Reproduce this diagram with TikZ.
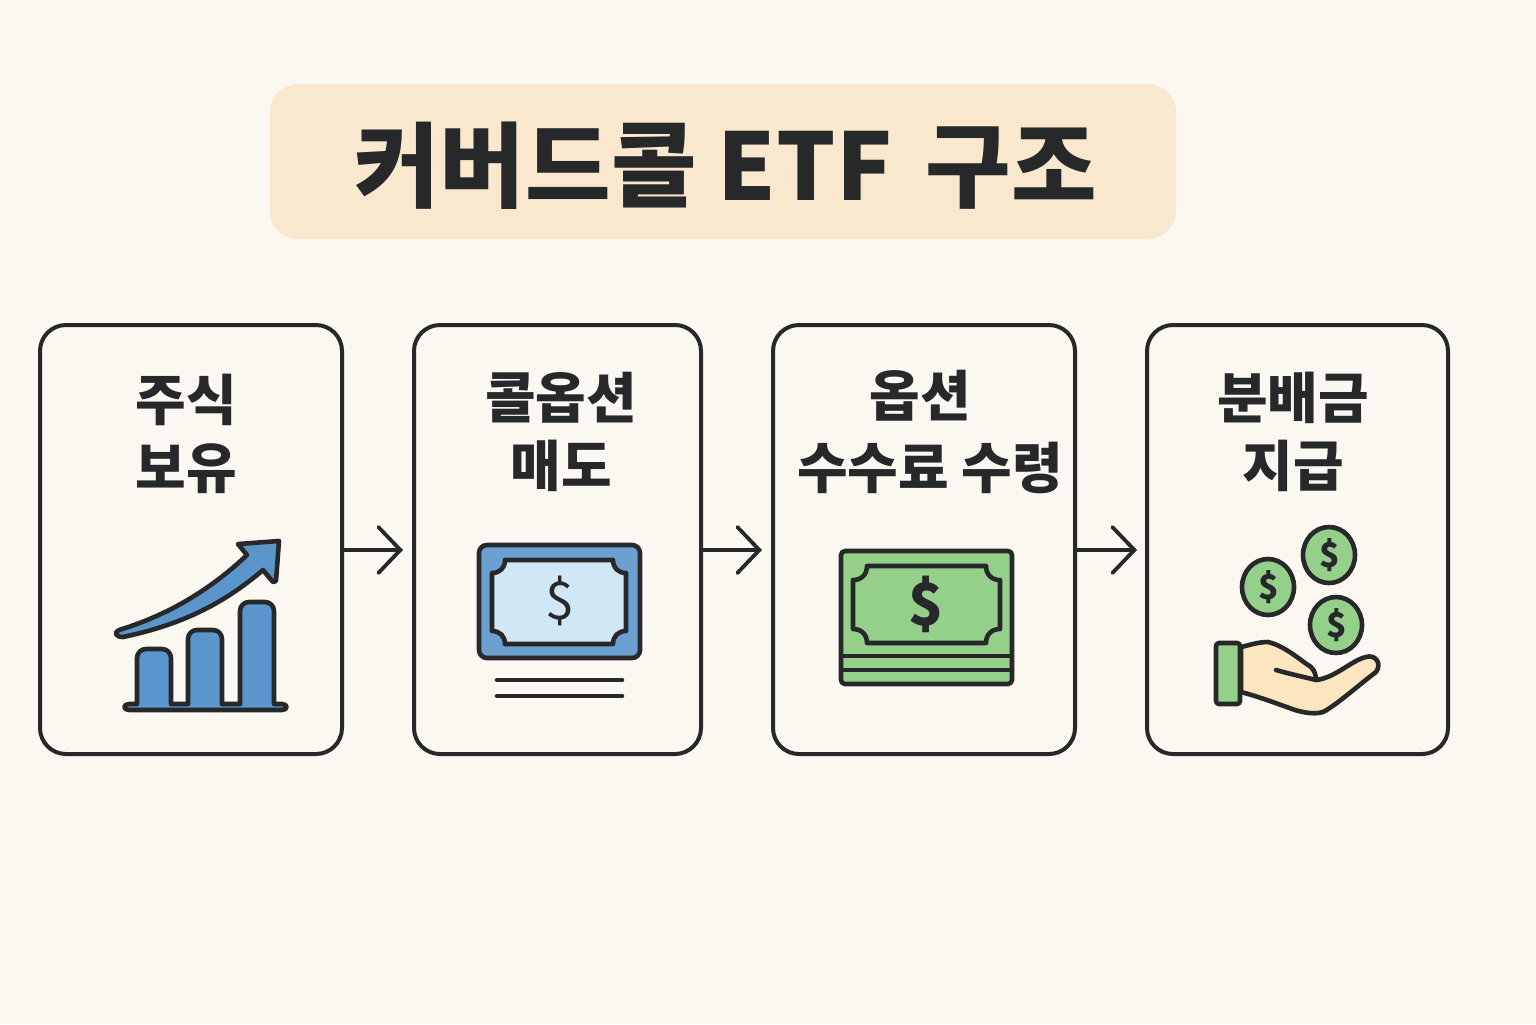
\documentclass[tikz,border=0pt]{standalone}
\usepackage{fontspec}
\setmainfont{Noto Sans CJK KR}
\usepackage{xcolor}
\usetikzlibrary{
  arrows.meta,
  positioning
}
\definecolor{pagebg}{HTML}{FBF8F1}
\definecolor{titlebg}{HTML}{F9E8CE}
\definecolor{inkdark}{HTML}{26282A}
\definecolor{chartblue}{HTML}{5A96CC}
\definecolor{notepale}{HTML}{D2E7F5}
\definecolor{billgreen}{HTML}{95D08A}
\definecolor{handskin}{HTML}{FCE6BF}

% frame of a bank note: x1 y1 x2 y2 corner
\newcommand{\billframe}[5]{
  ({#1+#5},#2) -- ({#3-#5},#2)
  .. controls ({#3-#5},{#2+0.6*#5}) and ({#3-0.6*#5},{#2+#5}) .. (#3,{#2+#5})
  -- (#3,{#4-#5})
  .. controls ({#3-0.6*#5},{#4-#5}) and ({#3-#5},{#4-0.6*#5}) .. ({#3-#5},#4)
  -- ({#1+#5},#4)
  .. controls ({#1+#5},{#4-0.6*#5}) and ({#1+0.6*#5},{#4-#5}) .. (#1,{#4-#5})
  -- (#1,{#2+#5})
  .. controls ({#1+0.6*#5},{#2+#5}) and ({#1+#5},{#2+0.6*#5}) .. cycle
}

\begin{document}
\begin{tikzpicture}[
  x=0.5pt, y=-0.5pt,
  flowbox/.style={draw=inkdark, line width=2pt, rounded corners=13pt, fill=pagebg,
    minimum height=214.5pt, outer sep=0pt},
  boxtext/.style={font=\fontsize{27.5}{34}\selectfont\bfseries, text=inkdark, align=center,
    inner sep=0pt},
  flowarrow/.style={draw=inkdark, line width=1.9pt,
    -{Straight Barb[length=11pt,width=23pt,line cap=round]}},
  icon/.style={draw=inkdark, line width=2.3pt, line join=round, line cap=round},
  dollar/.style={text=inkdark, inner sep=0pt}
]

  \useasboundingbox[fill=pagebg] (0,0) rectangle (1536,1024);

  % Title
  \node[fill=titlebg, rounded corners=14pt, minimum width=453pt, minimum height=77.5pt,
    outer sep=0pt] (title) at (723,161.5) {};
  \node[text=inkdark, inner sep=0pt, font=\fontsize{46.5}{50}\selectfont\bfseries]
    (titletext) at (725.5,165.5) {커버드콜 ETF\hspace{6pt} 구조};

  % Boxes
  \node[flowbox, minimum width=151pt, anchor=north west] (stock) at (40,325) {};
  \node[flowbox, minimum width=143.5pt, right=36pt of stock] (sell) {};
  \node[flowbox, minimum width=151pt, right=36pt of sell] (premium) {};
  \node[flowbox, minimum width=150.5pt, right=36pt of premium] (payout) {};

  \node[boxtext] (stocktext) at (186,434) {주식\\보유};
  \node[boxtext] (selltext) at (561,432) {콜옵션\\매도};
  \node[boxtext] (premiumtop) at (920,396) {옵션};
  \node[boxtext] (premiumtext) at (930,468) {수수료 수령};
  \node[boxtext] (payouttext) at (1293,432) {분배금\\지급};

  % Arrows between boxes
  \coordinate (tipone) at (403,550);
  \coordinate (tiptwo) at (762,550);
  \coordinate (tipthree) at (1137,550);
  \draw[flowarrow] (stock.east |- tipone) -- (tipone);
  \draw[flowarrow] (sell.east |- tiptwo) -- (tiptwo);
  \draw[flowarrow] (premium.east |- tipthree) -- (tipthree);

  % Chart icon
  \draw[icon, fill=chartblue] (129,704) -- (137,704) [rounded corners=4.5pt] -- (137,649)
    -- (171,649) [sharp corners] -- (171,704) -- (188,704) [rounded corners=4.5pt] -- (188,630)
    -- (222,630) [sharp corners] -- (222,704) -- (240,704) [rounded corners=4.5pt] -- (240,602)
    -- (274,602) [sharp corners] -- (274,704) -- (282,704)
    .. controls (288,704) and (288,710) .. (282,710) -- (129,710)
    .. controls (123,710) and (123,704) .. cycle;
  \draw[icon, fill=chartblue] (119,630) .. controls (165,616) and (208,592) .. (247,555)
    -- (238,544) -- (279,541) -- (276,581) -- (273,582) -- (263,570)
    .. controls (222,605) and (180,625) .. (123,637)
    .. controls (115,637) and (114,632) .. cycle;

  % Blue note icon
  \draw[icon, fill=chartblue!90!white, rounded corners=4pt] (479,545) rectangle (640,658);
  \draw[icon, fill=notepale] \billframe{492}{560}{626}{644}{13};
  \node[dollar, font=\fontsize{26}{26}\selectfont] (bluedollar) at (559.5,601) {\$};
  \draw[icon] (497,680) -- (622,680);
  \draw[icon] (497,696) -- (622,696);

  % Green note icon
  \draw[icon, fill=billgreen, rounded corners=2pt] (841,551) rectangle (1012,684);
  \draw[icon] (841,656) -- (1012,656);
  \draw[icon] (841,670) -- (1012,670);
  \draw[icon, fill=billgreen] \billframe{853}{566}{1000}{643}{14};
  \node[dollar, font=\fontsize{29}{29}\selectfont\bfseries] (greendollar) at (926.5,604) {\$};

  % Coins and hand icon
  \foreach \name/\cx/\cy in {coinleft/1268/587, cointop/1329/555, coinright/1336/625} {
    \draw[icon, fill=billgreen] (\cx,\cy) ellipse [x radius=26, y radius=28];
    \node[dollar, font=\fontsize{17}{17}\selectfont\bfseries] (\name) at (\cx+1,\cy) {\$};
  }
  \draw[icon, fill=handskin] (1241,647) .. controls (1250,645) and (1258,642) .. (1268,642)
    .. controls (1285,646) and (1300,660) .. (1311,667)
    .. controls (1315,671) and (1316,676) .. (1316,680)
    .. controls (1335,678) and (1352,660) .. (1366,657)
    .. controls (1376,654) and (1382,664) .. (1376,672)
    .. controls (1360,684) and (1340,702) .. (1325,711)
    .. controls (1318,715) and (1305,713) .. (1295,710)
    .. controls (1278,704) and (1260,697) .. (1241,692) -- cycle;
  \draw[icon] (1276,670) .. controls (1290,674) and (1304,677) .. (1316,680);
  \draw[icon, fill=billgreen, rounded corners=1.5pt] (1216,643) rectangle (1240,704);

\end{tikzpicture}
\end{document}
